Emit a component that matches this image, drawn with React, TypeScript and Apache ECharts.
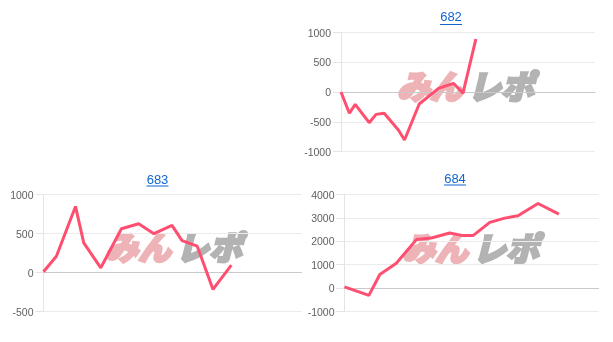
import React, { useEffect, useRef } from "react";
import * as echarts from "echarts";

const titles = ["682", "683", "684"];
const yMins = [-1000, -500, -1000];
const yMaxs = [1000, 1000, 4000];
const yIntervals = [500, 500, 1000];

const x682 = [0, 3.3, 5.6, 11.1, 13.8, 17.0, 22.6, 25.0, 30.8, 38.4, 44.3, 48.0, 53.1];
const y682 = [0, -358, -207, -516, -376, -358, -639, -807, -202, 62, 146, -22, 891];

const x683 = [0, 5.0, 12.4, 15.6, 22.2, 30.2, 36.9, 42.8, 49.8, 53.7, 59.6, 65.7, 72.8];
const y683 = [10, 209, 847, 379, 60, 561, 625, 497, 604, 408, 337, -217, 94];

const x684 = [0, 9.6, 13.9, 20.4, 28.3, 34.2, 41.4, 46.7, 50.6, 57.2, 63.1, 68.3, 76.2, 84.4];
const y684 = [50, -311, 583, 1064, 2072, 2140, 2353, 2243, 2243, 2809, 2991, 3094, 3617, 3162];

const xs = [x682, x683, x684];
const ys = [y682, y683, y684];

const LINE = "#ff4f70";
const LINK = "#1167d0";
const AXIS_FONT = "'Liberation Sans', Arial, sans-serif";

export default function App() {
  const ref = useRef<HTMLDivElement>(null);
  useEffect(() => {
    const chart = echarts.init(ref.current!, null, { renderer: "svg" });
    const grids = [
      { left: 341, right: 18, top: 32.5, bottom: 190.5 },
      { left: 43.5, right: 311.5, top: 194.5, bottom: 30.5 },
      { left: 344.5, right: 14.5, top: 194.5, bottom: 30.5 },
    ];
    const titlePos = [
      { x: 451, y: 16.8, w: 22, uy: 24.5 },
      { x: 157.5, y: 179.3, w: 22, uy: 186 },
      { x: 455, y: 178.5, w: 22, uy: 185 },
    ];
    const logoPos = [
      { x: 466, y: 84.5 },
      { x: 174, y: 246 },
      { x: 471, y: 247 },
    ];
    const graphic: any[] = [];
    titles.forEach((t, i) => {
      const p = titlePos[i];
      graphic.push({
        type: "text",
        x: p.x,
        y: p.y,
        z: 10,
        style: {
          text: t,
          fill: LINK,
          fontSize: 13,
          fontFamily: AXIS_FONT,
          align: "center",
          textAlign: "center",
          verticalAlign: "middle",
          textVerticalAlign: "middle",
        },
      });
      graphic.push({
        type: "line",
        z: 10,
        shape: { x1: p.x - p.w / 2, y1: p.uy, x2: p.x + p.w / 2, y2: p.uy },
        style: { stroke: LINK, lineWidth: 1 },
      });
      const l = logoPos[i];
      graphic.push({
        type: "text",
        x: l.x - 3,
        y: l.y,
        z: 0,
        style: {
          text: "みん",
          fill: "#eeb3b7",
          stroke: "#eeb3b7",
          lineWidth: 2.5,
          fontSize: 33,
          fontWeight: 900,
          fontStyle: "italic",
          fontFamily: "'Noto Sans CJK JP', sans-serif",
          align: "right",
          textAlign: "right",
          verticalAlign: "middle",
          textVerticalAlign: "middle",
        },
      });
      graphic.push({
        type: "text",
        x: l.x + 2,
        y: l.y,
        z: 0,
        style: {
          text: "レポ",
          fill: "#b3b3b3",
          stroke: "#b3b3b3",
          lineWidth: 2.5,
          fontSize: 33,
          fontWeight: 900,
          fontStyle: "italic",
          fontFamily: "'Noto Sans CJK JP', sans-serif",
          align: "left",
          textAlign: "left",
          verticalAlign: "middle",
          textVerticalAlign: "middle",
        },
      });
    });

    chart.setOption({
      animation: false,
      grid: grids.map((g) => ({ ...g, containLabel: false })),
      xAxis: grids.map((_, i) => ({
        type: "value",
        gridIndex: i,
        min: 0,
        max: 100,
        axisLabel: { show: false },
        axisTick: { show: false },
        splitLine: { show: false },
        axisLine: { show: true, onZero: true, lineStyle: { color: "#c9c9c9", width: 1 } },
      })),
      yAxis: grids.map((_, i) => ({
        type: "value",
        gridIndex: i,
        min: yMins[i],
        max: yMaxs[i],
        interval: yIntervals[i],
        axisLine: { show: true, lineStyle: { color: "#e4e4e4" } },
        axisTick: { show: true, length: 8, lineStyle: { color: "#e4e4e4" } },
        axisLabel: {
          color: "#5f5f5f",
          fontSize: 10.5,
          margin: 10,
          fontFamily: AXIS_FONT,
          formatter: (v: number) => String(v),
        },
        splitLine: { show: true, lineStyle: { color: "#ebebeb" } },
      })),
      graphic,
      series: xs.map((xv, i) => ({
        type: "line",
        xAxisIndex: i,
        yAxisIndex: i,
        data: xv.map((x, k) => [x, ys[i][k]]),
        showSymbol: false,
        symbol: "none",
        silent: true,
        z: 5,
        lineStyle: { color: LINE, width: 3 },
      })),
    });
    return () => chart.dispose();
  }, []);
  return (
    <div
      ref={ref}
      style={{ position: "fixed", left: 0, top: 0, width: 613, height: 342 }}
    />
  );
}
